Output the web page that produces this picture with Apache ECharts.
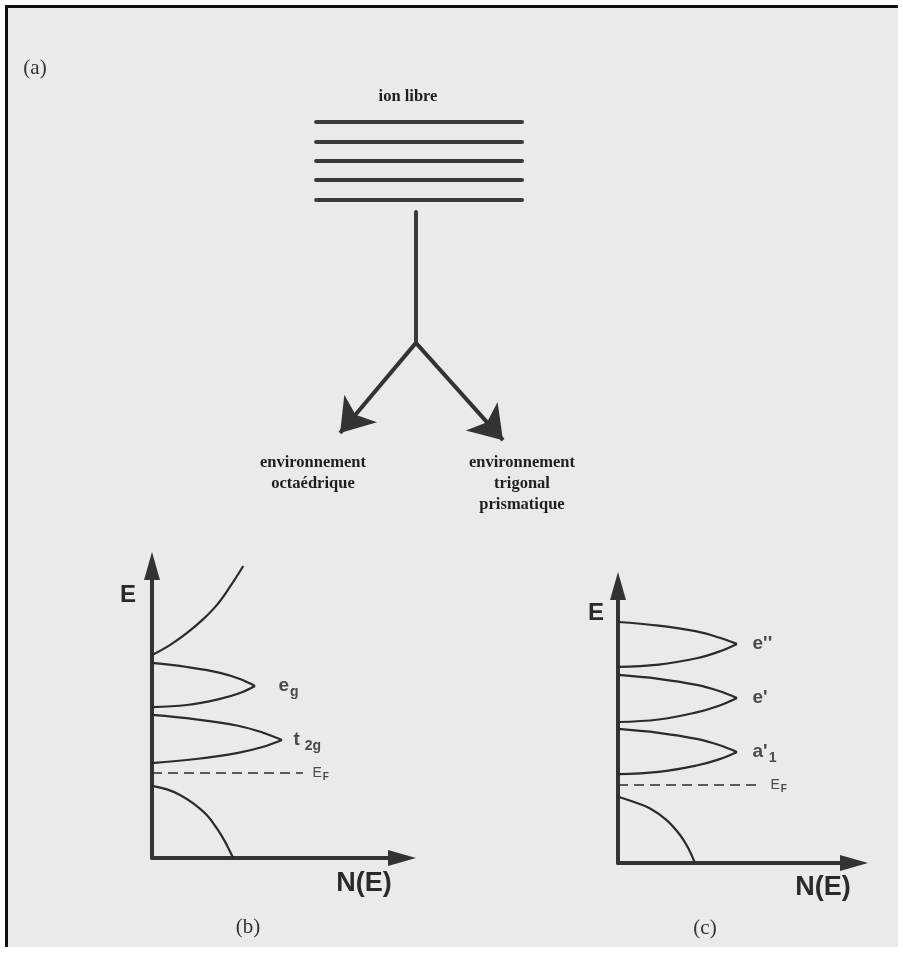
<!DOCTYPE html>
<html>
<head>
<meta charset="utf-8">
<script src="https://cdn.jsdelivr.net/npm/echarts/dist/echarts.min.js"></script>
<style>
  html, body { margin: 0; padding: 0; background: #ffffff; }
  #wrap { position: relative; width: 903px; height: 963px; }
  #frame { position: absolute; left: 5px; top: 5px; width: 890px; height: 939px;
           background: #eaeaea; border-left: 3px solid #111; border-top: 3px solid #111; }
  #chart { position: absolute; left: 0; top: 0; width: 903px; height: 963px; }
</style>
</head>
<body>
<div id="wrap"><div id="frame"></div><div id="chart"></div></div>
<script>
// ---------- Panel (a): free-ion d levels splitting (abstract units 0-100) ----------
const freeIonLevels = [96.5, 90.6, 85.0, 79.4, 73.5];
const freeIonSpan = [6.7, 92.5];
const stem = [[48.3, 70.0], [48.3, 31.5]];
const octaArrow = [[48.3, 31.5], [16.7, 5.0]];
const trigArrow = [[48.3, 31.5], [84.6, 2.9]];
const freeIonTitle = 'ion libre';
const octaLabel = ['environnement', 'octaédrique'];
const trigLabel = ['environnement', 'trigonal', 'prismatique'];

// ---------- Panel (b): octahedral DOS (N(E), E in 0-100) ----------
const bConduction = [[0, 69.5], [7.3, 73.0], [13.9, 77.0], [20.5, 81.8], [25.9, 86.6], [31.2, 92.9], [36.5, 100]];
const bEgUpper = [[0, 66.8], [14.0, 65.4], [27.2, 63.4], [35.2, 61.3], [41.2, 58.9]];
const bEgLower = [[41.2, 58.9], [35.2, 56.5], [27.2, 54.5], [14.0, 52.4], [0, 51.7]];
const bT2gUpper = [[0, 49.0], [17.6, 47.5], [34.4, 45.3], [44.2, 43.0], [52.0, 40.4]];
const bT2gLower = [[52.0, 40.4], [44.2, 38.0], [34.4, 36.0], [17.6, 33.9], [0, 32.5]];
const bValence = [[0, 24.7], [6.0, 23.5], [11.2, 21.6], [16.5, 18.7], [21.9, 14.7], [25.9, 10.2], [29.2, 5.6], [31.2, 2.2], [32.5, 0]];
const bFermi = [[0, 29.1], [60.4, 29.1]];
const bLabelPos = [[50.4, 58.9], [56.4, 40.4], [64.0, 29.1]];
const bLabelText = ['{m|e}{s|g}', '{m|t}{s| 2g}', '{f|E}{fs|F}'];

// ---------- Panel (c): trigonal prismatic DOS ----------
const cEppUpper = [[0, 87.0], [17.2, 85.7], [33.3, 83.6], [42.8, 81.4], [50.4, 79.1]];
const cEppLower = [[50.4, 79.1], [42.8, 76.3], [33.3, 73.9], [17.2, 71.6], [0, 70.8]];
const cEpUpper = [[0, 67.9], [17.2, 66.5], [33.3, 64.3], [42.8, 62.1], [50.4, 59.6]];
const cEpLower = [[50.4, 59.6], [42.8, 56.8], [33.3, 54.4], [17.2, 51.8], [0, 50.9]];
const cA1Upper = [[0, 48.4], [17.2, 47.0], [33.3, 44.8], [42.8, 42.6], [50.4, 40.1]];
const cA1Lower = [[50.4, 40.1], [42.8, 37.4], [33.3, 35.2], [17.2, 32.9], [0, 32.1]];
const cValence = [[0, 23.9], [6.5, 22.1], [13.6, 19.7], [20.6, 15.5], [26.3, 10.1], [29.8, 5.3], [32.6, 0]];
const cFermi = [[0, 28.2], [60.2, 28.2]];
const cLabelPos = [[56.8, 79.1], [56.8, 59.6], [56.8, 40.1], [64.4, 28.2]];
const cLabelText = ["{m|e''}", "{m|e'}", "{m|a'}{s|1}", '{f|E}{fs|F}'];

const axisTitleE = 'E';
const axisTitleN = 'N(E)';
const panelTags = ['(a)', '(b)', '(c)'];

// ---------- styling ----------
const INK = '#2b2b2b';
const curveStyle = { color: INK, width: 2.2 };
const richLabels = {
  m: { fontFamily: 'Liberation Sans', fontWeight: 'bold', fontSize: 19, color: '#222' },
  s: { fontFamily: 'Liberation Sans', fontWeight: 'bold', fontSize: 14, color: '#222', padding: [12, 0, 0, 1] },
  f: { fontFamily: 'Liberation Sans', fontSize: 14, color: '#222' },
  fs: { fontFamily: 'Liberation Sans', fontWeight: 'bold', fontSize: 10, color: '#222', padding: [9, 0, 0, 1] }
};

function dosAxis(show) {
  return {
    type: 'value', min: 0, max: 100, show: show,
    axisLine: { show: true, symbol: ['none', 'triangle'], symbolSize: [16, 28],
                lineStyle: { color: '#333', width: 4 } },
    axisTick: { show: false }, axisLabel: { show: false }, splitLine: { show: false }
  };
}
function hiddenAxis() {
  return { type: 'value', min: 0, max: 100, show: false };
}
function curve(data, g) {
  return { type: 'line', xAxisIndex: g, yAxisIndex: g, data: data, smooth: 0.4,
           symbol: 'none', lineStyle: curveStyle, silent: true, clip: false };
}
function fermi(data, g) {
  return { type: 'line', xAxisIndex: g, yAxisIndex: g, data: data, symbol: 'none', silent: true,
           lineStyle: { color: INK, width: 1.5, type: [10, 6] } };
}
function labels(pos, txt, g) {
  return { type: 'scatter', xAxisIndex: g, yAxisIndex: g, symbolSize: 1,
           itemStyle: { color: 'rgba(0,0,0,0)' }, silent: true,
           data: pos.map((p, i) => ({ value: p, label: { formatter: txt[i] } })),
           label: { show: true, position: 'right', distance: 0, rich: richLabels } };
}

const serifBold = { fontFamily: 'Liberation Serif', fontWeight: 'bold', fontSize: 16.5, fill: '#1e1e1e',
                    textAlign: 'center', textVerticalAlign: 'middle' };
function gtext(x, y, text, style) {
  return { type: 'text', x: x, y: y, style: Object.assign({ text: text }, style) };
}
const tagStyle = { fontFamily: 'Liberation Serif', fontSize: 21, fill: '#333', textAlign: 'center', textVerticalAlign: 'middle' };
const axisTitleStyle = { fontFamily: 'Liberation Sans', fontWeight: 'bold', fontSize: 24, fill: '#2a2a2a', textAlign: 'center', textVerticalAlign: 'middle' };
const nStyle = Object.assign({}, axisTitleStyle, { fontSize: 27 });

const chart = echarts.init(document.getElementById('chart'), null, { renderer: 'canvas' });
const option = {
  animation: false,
  backgroundColor: 'transparent',
  grid: [
    { left: 300, top: 110, width: 240, height: 340, outerBoundsMode: 'none' },
    { left: 152, top: 566, width: 250, height: 292, outerBoundsMode: 'none' },
    { left: 618, top: 586, width: 236, height: 277, outerBoundsMode: 'none' }
  ],
  xAxis: [Object.assign(hiddenAxis(), { gridIndex: 0 }),
          Object.assign(dosAxis(true), { gridIndex: 1 }),
          Object.assign(dosAxis(true), { gridIndex: 2 })],
  yAxis: [Object.assign(hiddenAxis(), { gridIndex: 0 }),
          Object.assign(dosAxis(true), { gridIndex: 1 }),
          Object.assign(dosAxis(true), { gridIndex: 2 })],
  series: [
    { type: 'lines', coordinateSystem: 'cartesian2d', xAxisIndex: 0, yAxisIndex: 0, silent: true,
      symbol: ['none', 'none'],
      lineStyle: { color: '#3a3a3a', width: 4, opacity: 1, cap: 'round' },
      data: freeIonLevels.map(e => ({ coords: [[freeIonSpan[0], e], [freeIonSpan[1], e]] }))
        .concat([{ coords: stem }]) },
    { type: 'lines', coordinateSystem: 'cartesian2d', xAxisIndex: 0, yAxisIndex: 0, silent: true,
      symbol: ['none', 'arrow'], symbolSize: 32,
      lineStyle: { color: '#333', width: 4, opacity: 1 },
      data: [{ coords: octaArrow }, { coords: trigArrow }] },

    curve(bConduction, 1), curve(bEgUpper, 1), curve(bEgLower, 1),
    curve(bT2gUpper, 1), curve(bT2gLower, 1), curve(bValence, 1),
    fermi(bFermi, 1), labels(bLabelPos, bLabelText, 1),

    curve(cEppUpper, 2), curve(cEppLower, 2), curve(cEpUpper, 2), curve(cEpLower, 2),
    curve(cA1Upper, 2), curve(cA1Lower, 2), curve(cValence, 2),
    fermi(cFermi, 2), labels(cLabelPos, cLabelText, 2)
  ],
  graphic: [
    gtext(35, 68, panelTags[0], tagStyle),
    gtext(408, 97, freeIonTitle, serifBold),
    gtext(313, 463, octaLabel[0], serifBold),
    gtext(313, 484, octaLabel[1], serifBold),
    gtext(522, 463, trigLabel[0], serifBold),
    gtext(522, 484, trigLabel[1], serifBold),
    gtext(522, 505, trigLabel[2], serifBold),
    gtext(128, 595, axisTitleE, axisTitleStyle),
    gtext(364, 884, axisTitleN, nStyle),
    gtext(248, 927, panelTags[1], tagStyle),
    gtext(596, 613, axisTitleE, axisTitleStyle),
    gtext(823, 888, axisTitleN, nStyle),
    gtext(705, 928, panelTags[2], tagStyle)
  ]
};
chart.setOption(option);
</script>
</body>
</html>
